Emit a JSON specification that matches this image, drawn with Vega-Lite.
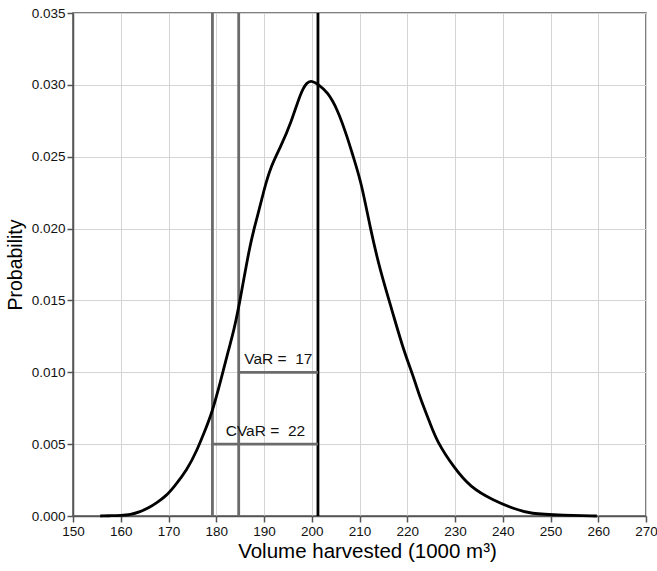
{
  "$schema": "https://vega.github.io/schema/vega-lite/v6.json",
  "width": 573,
  "height": 503,
  "autosize": {"type": "none"},
  "padding": {"left": 73, "top": 13, "right": 11, "bottom": 55},
  "background": "white",
  "datasets": {
    "curve": [
      {"v": 155.7, "p": 0.0},
      {"v": 158.0, "p": 0.00002},
      {"v": 160.0, "p": 0.00004},
      {"v": 162.0, "p": 0.00009},
      {"v": 164.1, "p": 0.0003},
      {"v": 165.8, "p": 0.00055},
      {"v": 167.5, "p": 0.0009},
      {"v": 169.5, "p": 0.0014},
      {"v": 171.1, "p": 0.0020},
      {"v": 173.9, "p": 0.0032},
      {"v": 176.0, "p": 0.0046},
      {"v": 177.4, "p": 0.00575},
      {"v": 179.1, "p": 0.00715},
      {"v": 181.0, "p": 0.0095},
      {"v": 182.6, "p": 0.0116},
      {"v": 183.7, "p": 0.0129},
      {"v": 185.0, "p": 0.015},
      {"v": 187.1, "p": 0.019},
      {"v": 188.6, "p": 0.0208},
      {"v": 190.0, "p": 0.0227},
      {"v": 191.4, "p": 0.0243},
      {"v": 193.5, "p": 0.0257},
      {"v": 195.6, "p": 0.0273},
      {"v": 197.7, "p": 0.0295},
      {"v": 199.0, "p": 0.0302},
      {"v": 200.0, "p": 0.0303},
      {"v": 201.5, "p": 0.03},
      {"v": 203.3, "p": 0.0295},
      {"v": 205.4, "p": 0.0283},
      {"v": 207.5, "p": 0.0263},
      {"v": 208.5, "p": 0.0252},
      {"v": 210.4, "p": 0.0232},
      {"v": 212.2, "p": 0.0201},
      {"v": 214.3, "p": 0.0171},
      {"v": 216.8, "p": 0.01433},
      {"v": 219.2, "p": 0.01155},
      {"v": 221.3, "p": 0.0097},
      {"v": 222.7, "p": 0.0082},
      {"v": 224.8, "p": 0.00645},
      {"v": 226.2, "p": 0.0052},
      {"v": 229.7, "p": 0.0034},
      {"v": 233.2, "p": 0.002},
      {"v": 238.0, "p": 0.0011},
      {"v": 242.2, "p": 0.00053},
      {"v": 245.7, "p": 0.00014},
      {"v": 252.7, "p": 0.00006},
      {"v": 259.7, "p": 0.0}
    ],
    "vlines": [
      {"v": 179.2, "kind": "CVaR"},
      {"v": 184.7, "kind": "VaR"},
      {"v": 201.3, "kind": "mean"}
    ],
    "segs": [
      {"v": 184.7, "v2": 201.3, "p": 0.01, "label": "VaR =\u00a0\u00a017", "lx": 193.0},
      {"v": 179.2, "v2": 201.3, "p": 0.005, "label": "CVaR =\u00a0\u00a022", "lx": 190.3}
    ]
  },
  "layer": [
    {
      "data": {"name": "vlines"},
      "mark": {"type": "rule", "strokeWidth": 2.8},
      "encoding": {
        "x": {
          "field": "v", "type": "quantitative",
          "scale": {"domain": [150, 270], "nice": false, "zero": false},
          "title": "Volume harvested (1000 m³)",
          "axis": {
            "values": [150,155,160,165,170,175,180,185,190,195,200,205,210,215,220,225,230,235,240,245,250,255,260,265,270],
            "labelExpr": "datum.value % 10 === 0 ? datum.label : ''",
            "tickOpacity": {"condition": {"test": "datum.value % 10 !== 0", "value": 0}, "value": 1},
            "gridColor": {"condition": {"test": "datum.value % 10 !== 0", "value": "#eeeeee"}, "value": "#d4d4d4"},
            "format": "d",
            "tickSize": 6,
            "labelPadding": 2,
            "titlePadding": 4,
            "titleFontSize": 20.5,
            "titleX": 294,
            "titleAlign": "center"
          }
        },
        "color": {
          "field": "kind", "type": "nominal",
          "scale": {"domain": ["CVaR", "VaR", "mean"], "range": ["#6b6b6b", "#6b6b6b", "#000000"]},
          "legend": null
        }
      }
    },
    {
      "data": {"name": "segs"},
      "mark": {"type": "rule", "strokeWidth": 2.8, "color": "#6b6b6b"},
      "encoding": {
        "x": {"field": "v", "type": "quantitative", "title": "Volume harvested (1000 m³)"},
        "x2": {"field": "v2"},
        "y": {"field": "p", "type": "quantitative", "title": "Probability"}
      }
    },
    {
      "data": {"name": "segs"},
      "mark": {"type": "text", "font": "Liberation Sans", "fontSize": 15.5, "color": "#111", "align": "center", "baseline": "alphabetic", "dy": -8},
      "encoding": {
        "x": {"field": "lx", "type": "quantitative", "title": "Volume harvested (1000 m³)"},
        "y": {"field": "p", "type": "quantitative", "title": "Probability"},
        "text": {"field": "label", "type": "nominal"}
      }
    },
    {
      "data": {"name": "curve"},
      "mark": {"type": "line", "color": "#000", "strokeWidth": 2.8, "interpolate": "basis"},
      "encoding": {
        "x": {"field": "v", "type": "quantitative", "title": "Volume harvested (1000 m³)"},
        "y": {
          "field": "p", "type": "quantitative",
          "scale": {"domain": [0, 0.035], "nice": false},
          "title": "Probability",
          "axis": {
            "values": [0,0.0025,0.005,0.0075,0.01,0.0125,0.015,0.0175,0.02,0.0225,0.025,0.0275,0.03,0.0325,0.035],
            "labelExpr": "abs(datum.value*200 - round(datum.value*200)) < 0.001 ? format(datum.value, '.3f') : ''",
            "tickOpacity": {"condition": {"test": "abs(datum.value*200 - round(datum.value*200)) > 0.001", "value": 0}, "value": 1},
            "gridColor": {"condition": {"test": "abs(datum.value*200 - round(datum.value*200)) > 0.001", "value": "#eeeeee"}, "value": "#d4d4d4"},
            "tickSize": 6,
            "labelPadding": 2,
            "titlePadding": 6
          }
        }
      }
    }
  ],
  "config": {
    "view": {"stroke": "#555", "strokeWidth": 1.5},
    "axis": {
      "domainColor": "#555",
      "domainWidth": 1.5,
      "tickColor": "#555",
      "tickWidth": 1.5,
      "labelFont": "Liberation Sans",
      "labelFontSize": 13.5,
      "labelColor": "#111",
      "titleFont": "Liberation Sans",
      "titleFontSize": 19.5,
      "titleFontWeight": "normal",
      "titleColor": "#000",
      "grid": true,
      "gridWidth": 1,
      "labelOverlap": false,
      "labelFlush": false,
      "labelBound": false
    }
  }
}
